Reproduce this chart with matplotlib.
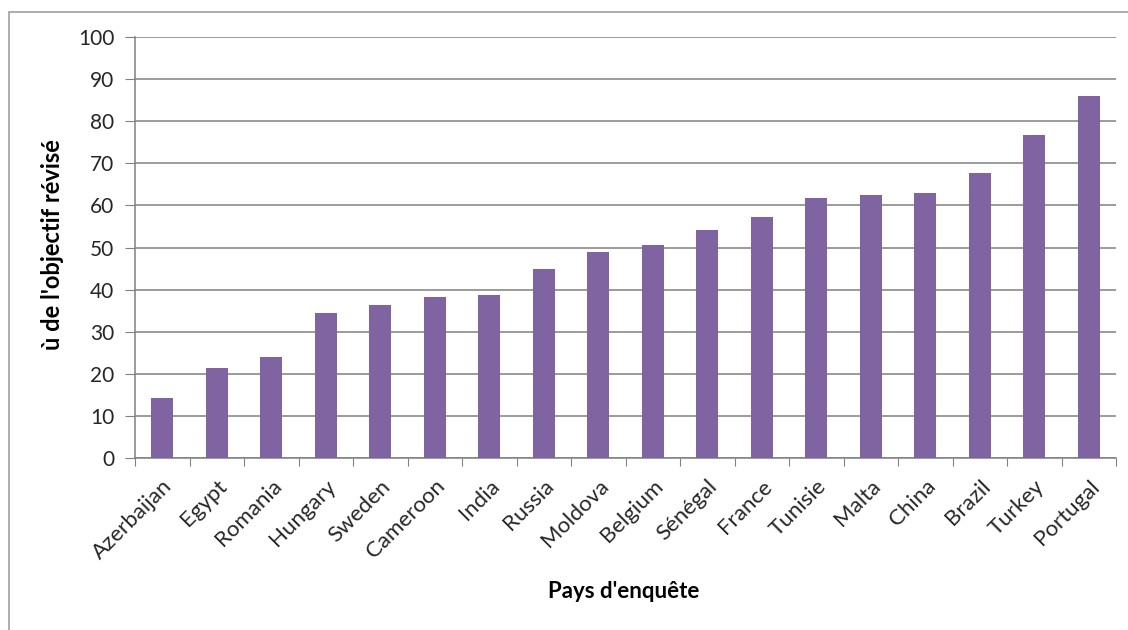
import matplotlib
matplotlib.use("Agg")
import matplotlib.pyplot as plt
from matplotlib.patches import Rectangle

countries = ["Azerbaijan", "Egypt", "Romania", "Hungary", "Sweden", "Cameroon",
             "India", "Russia", "Moldova", "Belgium", "Sénégal", "France",
             "Tunisie", "Malta", "China", "Brazil", "Turkey", "Portugal"]
values = [14.3, 21.3, 24.1, 34.5, 36.3, 38.3, 38.7, 45.0, 48.9, 50.6,
          54.1, 57.2, 61.8, 62.5, 62.9, 67.7, 76.8, 85.9]
yticks = list(range(0, 101, 10))

plt.rcParams['font.family'] = ['Lato', 'DejaVu Sans']

fig = plt.figure(figsize=(11.28, 6.3), dpi=100)
ax = fig.add_axes([135/1128, 1-458/630, (1116-135)/1128, (458-37)/630])

# outer chart border
fig.patches.append(Rectangle((9/1128, -0.01), 1.2, 1-12/630+0.01, transform=fig.transFigure,
                             fill=False, edgecolor='#a0a0a0', linewidth=1.2, zorder=0))

x = list(range(len(countries)))
ax.bar(x, values, width=0.4, color='#8064A2', zorder=3)

ax.set_xlim(-0.5, len(countries) - 0.5)
ax.set_ylim(0, 100)
ax.set_yticks(yticks)
ax.set_yticklabels([str(t) for t in yticks], fontsize=15, color='#262626')
ax.yaxis.grid(True, color='#808080', linewidth=1.1, zorder=0)
ax.set_axisbelow(True)

ax.set_xticks([i - 0.5 for i in range(len(countries) + 1)], minor=False)
ax.set_xticklabels([])
ax.set_xticks(x, minor=True)
ax.set_xticklabels(countries, minor=True, rotation=45, ha='right', va='top',
                   rotation_mode='anchor', fontsize=16, color='#262626')
ax.tick_params(axis='x', which='minor', length=0, pad=13)
ax.tick_params(axis='x', which='major', length=6, color='#808080', direction='out')
ax.tick_params(axis='y', length=7, color='#808080', direction='out', pad=8)

for s in ['top', 'right']:
    ax.spines[s].set_visible(False)
for s in ['left', 'bottom']:
    ax.spines[s].set_color('#808080')
    ax.spines[s].set_linewidth(1.1)

fig.text(53/1128, 1-245/630, "ù de l'objectif révisé", fontsize=17, fontweight='bold',
         rotation=90, ha='center', va='center')
fig.text(624/1128, 1-592/630, "Pays d'enquête", fontsize=16, fontweight='bold',
         ha='center', va='center')

fig.savefig("out.png", dpi=100)
